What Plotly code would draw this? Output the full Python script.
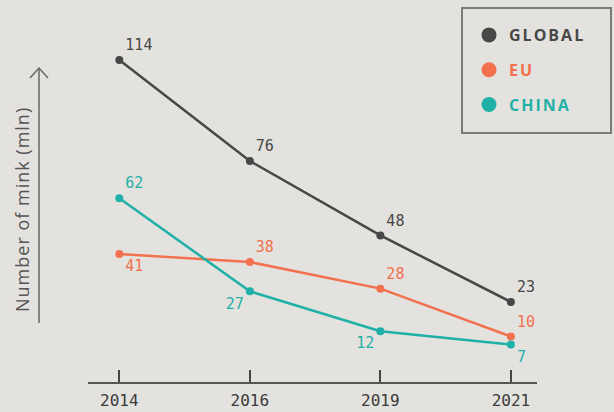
import plotly.graph_objects as go

years = ["2014", "2016", "2019", "2021"]
global_vals = [114, 76, 48, 23]
eu_vals = [41, 38, 28, 10]
china_vals = [62, 27, 12, 7]

series = [
    ("GLOBAL", global_vals, "#474747", ["top right"] * 4),
    ("EU", eu_vals, "#f2704e", ["bottom right", "top right", "top right", "top right"]),
    ("CHINA", china_vals, "#1fb0a8", ["top right", "bottom left", "bottom left", "bottom right"]),
]

BG = "#e4e2de"
fig = go.Figure()
for i, (name, vals, color, pos) in enumerate(series):
    fig.add_trace(go.Scatter(
        x=years, y=vals, mode="lines+markers+text", name=name,
        line=dict(color=color, width=2.5), marker=dict(size=8, color=color),
        text=[str(v) for v in vals], textposition=pos,
        textfont=dict(family="DejaVu Sans Mono", size=15, color=color),
        showlegend=False, cliponaxis=False,
    ))
for i, (name, vals, color, pos) in enumerate(series):
    fig.add_trace(go.Scatter(
        x=[None], y=[None], mode="markers",
        name=f"<span style='color:{color};letter-spacing:2px'><b>{name}</b></span>",
        marker=dict(size=15, color=color), legendgroup=name,
    ))

L, R, T, B = 88, 77, 20, 30
W, H = 614, 412
pw, ph = W - L - R, H - T - B
px = lambda v: (v - L) / pw
py = lambda v: (H - B - v) / ph

fig.update_layout(
    width=W, height=H, paper_bgcolor=BG, plot_bgcolor=BG,
    margin=dict(l=L, r=R, t=T, b=B, autoexpand=False),
    xaxis=dict(type="category", range=[-0.24, 3.2], showgrid=False, zeroline=False,
               showline=True, linecolor="#555555", linewidth=2, automargin=False,
               ticks="inside", ticklen=12, tickwidth=2, tickcolor="#444444",
               ticklabelstandoff=3,
               tickfont=dict(family="DejaVu Sans Mono", size=16, color="#3a3a3a")),
    yaxis=dict(range=[-7.1, 129], visible=False, automargin=False),
    legend=dict(x=px(469), y=py(18), xanchor="left", yanchor="top",
                bgcolor="rgba(0,0,0,0)", borderwidth=0,
                font=dict(family="Open Sans", size=16),
                traceorder="grouped", tracegroupgap=11, itemsizing="trace"),
    shapes=[
        dict(type="rect", xref="paper", yref="paper", x0=px(462), x1=px(611), y0=py(133), y1=py(8),
             line=dict(color="#7a7a7a", width=2)),
        dict(type="line", xref="paper", yref="paper", x0=px(39), x1=px(39), y0=py(323), y1=py(68),
             line=dict(color="#666666", width=1.5)),
        dict(type="path", xref="paper", yref="paper",
             path=f"M {px(30)},{py(78)} L {px(39)},{py(68)} L {px(48)},{py(78)}",
             line=dict(color="#666666", width=1.5)),
    ],
    annotations=[
        dict(text="<span style='letter-spacing:1px'>Number of mink (mln)</span>",
             xref="paper", yref="paper", x=px(22), y=py(210), xanchor="center", yanchor="middle",
             textangle=-90, showarrow=False, font=dict(family="Open Sans", size=18, color="#555555")),
    ],
)
fig.write_html("out.html", config={"displayModeBar": False},
               post_script="document.body.style.margin='0';document.body.style.background='" + BG + "';")
